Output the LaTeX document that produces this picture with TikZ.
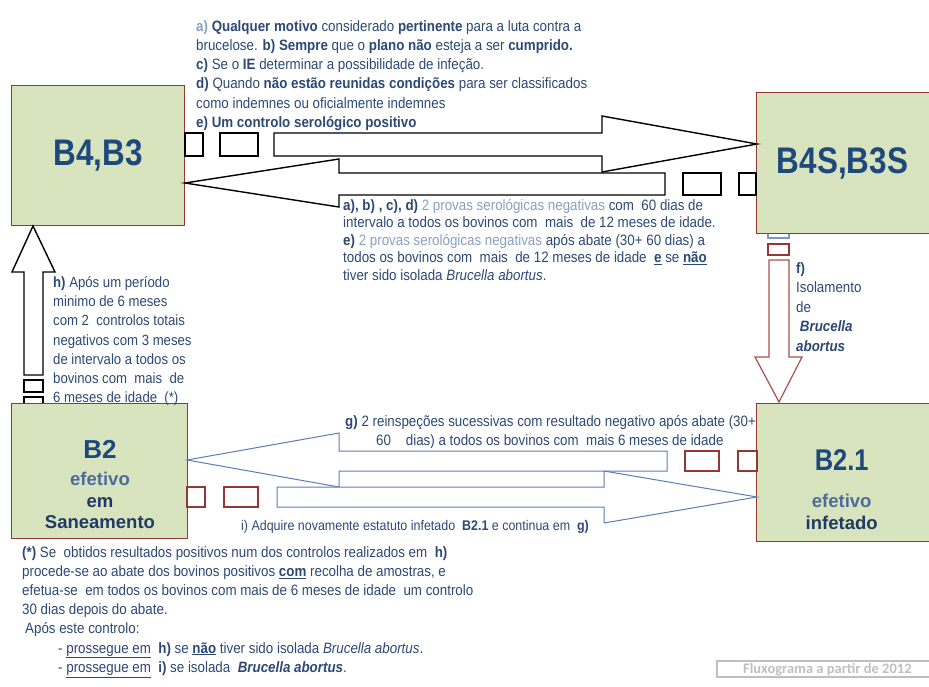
\documentclass[tikz,border=0pt]{standalone}
\usepackage{fontspec}
\setmainfont{Liberation Sans}[FakeStretch=0.89]
\newfontfamily\narrowfont{Liberation Sans}[FakeStretch=0.85]
\newfontfamily\widefont{Liberation Sans}
\newfontfamily\footfont{Carlito}
\definecolor{boxfill}{HTML}{D7E4BD}
\definecolor{boxline}{HTML}{953735}
\definecolor{titlec}{HTML}{1F497D}
\definecolor{subc}{HTML}{4D6C9C}
\definecolor{darkc}{HTML}{1F3A66}
\definecolor{txtc}{HTML}{2C4876}
\definecolor{lightc}{HTML}{8A9FC0}
\definecolor{blueline}{HTML}{5B7DB3}
\definecolor{redline}{HTML}{A8504D}
\definecolor{footc}{HTML}{BFBFBF}
\newcommand{\lt}[1]{\textcolor{lightc}{#1}}
\begin{document}
\begin{tikzpicture}[x=1pt,y=-1pt,
  box/.style={draw=boxline, fill=boxfill, line width=1.3pt, inner sep=0pt, anchor=north west},
  blk/.style={draw=black, fill=white, line width=1.4pt, line join=miter},
  blu/.style={draw=blueline, fill=white, line width=1pt, line join=miter},
  redarr/.style={draw=redline, fill=white, line width=1.2pt, line join=miter},
  redbox/.style={draw=boxline, fill=white, line width=1.2pt},
  blubox/.style={draw=blueline!80, fill=white, line width=1.2pt},
  bigt/.style={font=\narrowfont\fontsize{37}{40}\selectfont\bfseries, text=titlec, inner sep=0pt, anchor=base},
  midt/.style={font=\narrowfont\fontsize{30}{32}\selectfont\bfseries, text=titlec, inner sep=0pt, anchor=base},
  subt/.style={font=\widefont\fontsize{18.5}{20}\selectfont\bfseries, inner sep=0pt, anchor=base},
  txt/.style={anchor=north west, inner sep=0pt, align=left, text=txtc},
]
\useasboundingbox (0,0) rectangle (929,686);

% small rects hidden partly under boxes
\draw[blk] (24,397) rectangle (43,407);
\draw[blubox] (768,226) rectangle (789,238);

% boxes
\node[box, minimum width=173pt, minimum height=140pt] (b43) at (11,85) {};
\node[box, minimum width=175pt, minimum height=141pt] (b43s) at (756,92) {};
\node[box, minimum width=176pt, minimum height=135pt] (b2) at (11,403) {};
\node[box, minimum width=175pt, minimum height=138pt] (b21) at (756,403) {};

\node[bigt] (b43t) at (98,165) {B4,B3};
\node[bigt] (b43st) at (842.5,173) {B4S,B3S};
\node[subt, text=titlec, font=\widefont\fontsize{26}{28}\selectfont\bfseries] (b2t) at (100,458) {B2};
\node[subt, text=subc] (b2a) at (100,485) {efetivo};
\node[subt, text=darkc] (b2b) at (100,507) {em};
\node[subt, text=darkc] (b2c) at (100,528) {Saneamento};
\node[midt] (b21t) at (841.7,470) {B2.1};
\node[subt, text=subc] (b21a) at (841.7,507) {efetivo};
\node[subt, text=darkc] (b21b) at (841.7,529) {infetado};

% top arrows (black)
\draw[blk] (185,133) rectangle (203,156);
\draw[blk] (220,133) rectangle (258,156);
\draw[blk] (274,133) -- (602,133) -- (602,116) -- (757,144) -- (602,172) -- (602,156) -- (274,156) -- cycle;
\draw[blk] (665,173) -- (339,173) -- (339,159) -- (185,183) -- (339,207) -- (339,195) -- (665,195) -- cycle;
\draw[blk] (683,173) rectangle (721,195);
\draw[blk] (739,173) rectangle (756,195);

% left vertical arrow (up)
\draw[blk] (24,375) -- (24,272) -- (12,272) -- (33,226) -- (55,272) -- (43,272) -- (43,375) -- cycle;
\draw[blk] (24,380) rectangle (43,392);

% right vertical arrow (down)
\draw[redbox] (768,244) rectangle (789,255);
\draw[redarr] (769,260) -- (789,260) -- (789,357) -- (802,357) -- (779,402) -- (755,357) -- (769,357) -- cycle;

% bottom arrows (blue)
\draw[blu] (667,451) -- (339,451) -- (339,433) -- (187,460) -- (339,487) -- (339,471) -- (667,471) -- cycle;
\draw[redbox] (685,451) rectangle (719,471);
\draw[redbox] (738,451) rectangle (757,471);
\draw[blu] (277,487) -- (604,487) -- (604,471) -- (757,497) -- (604,523) -- (604,507) -- (277,507) -- cycle;
\draw[redbox] (187,487) rectangle (205,507);
\draw[redbox] (224,487) rectangle (258,507);

% texts
\node[txt, font=\fontsize{15}{19.3}\selectfont] (ttop) at (196,20) {%
\lt{\textbf{a)}} \textbf{Qualquer motivo} considerado \textbf{pertinente} para a luta contra a\\
brucelose. \textbf{b) Sempre} que o \textbf{plano não} esteja a ser \textbf{cumprido.}\\
\textbf{c)} Se o \textbf{IE} determinar a possibilidade de infeção.\\
\textbf{d)} Quando \textbf{não estão reunidas condições} para ser classificados\\
como indemnes ou oficialmente indemnes\\
\textbf{e) Um controlo serológico positivo}};

\node[txt, font=\fontsize{15}{17.5}\selectfont] (tmid) at (343,199) {%
\textbf{a), b) , c), d)} \lt{2 provas serológicas negativas} com~~60 dias de\\
intervalo a todos os bovinos com~~mais~~de 12 meses de idade.\\
\textbf{e)} \lt{2 provas serológicas negativas} após abate (30+ 60 dias) a\\
todos os bovinos com~~mais~~de 12 meses de idade~~\textbf{\underline{e}} se \textbf{\underline{não}}\\
tiver sido isolada \textit{Brucella abortus}.};

\node[txt, font=\fontsize{14.8}{19.3}\selectfont] (th) at (53,276) {%
\textbf{h)} Após um período\\
minimo de 6 meses\\
com 2~~controlos totais\\
negativos com 3 meses\\
de intervalo a todos os\\
bovinos com~~mais~~de\\
6 meses de idade~~(*)};

\node[txt, font=\fontsize{15}{19.5}\selectfont] (tf) at (796,262) {%
\textbf{f)}\\
Isolamento\\
de\\
\textbf{\textit{~Brucella}}\\
\textbf{\textit{abortus}}};

\node[txt, font=\fontsize{15}{19}\selectfont] (tg) at (345,415) {%
\textbf{g)} 2 reinspeções sucessivas com resultado negativo após abate (30+\\
\hspace*{31pt}60~~~~dias) a todos os bovinos com~~mais 6 meses de idade};

\node[txt, anchor=base west, font=\fontsize{14}{15}\selectfont] (ti) at (241,530) {%
i) Adquire novamente estatuto infetado~~\textbf{B2.1} e continua em~~\textbf{g)}};

\node[txt, font=\fontsize{15}{19.2}\selectfont] (tbot) at (22,546) {%
\textbf{(*)} Se~~obtidos resultados positivos num dos controlos realizados em~~\textbf{h)}\\
procede-se ao abate dos bovinos positivos \textbf{\underline{com}} recolha de amostras, e\\
efetua-se~~em todos os bovinos com mais de 6 meses de idade~~um controlo\\
30 dias depois do abate.\\
\hspace*{3pt}Após este controlo:\\
\hspace*{36pt}- \underline{prossegue em}~~\textbf{h)} se \textbf{\underline{não}} tiver sido isolada \textit{Brucella abortus}.\\
\hspace*{36pt}- \underline{prossegue em}~~\textbf{i)} se isolada~~\textbf{\textit{Brucella abortus}}.};

% footer
\draw[draw=footc, line width=1.8pt] (717,661) rectangle (935,677);
\node[inner sep=0pt, anchor=base west, text=footc, font=\footfont\fontsize{14.5}{15}\selectfont\bfseries] (foot) at (743,673) {Fluxograma a partir de 2012};
\end{tikzpicture}
\end{document}
